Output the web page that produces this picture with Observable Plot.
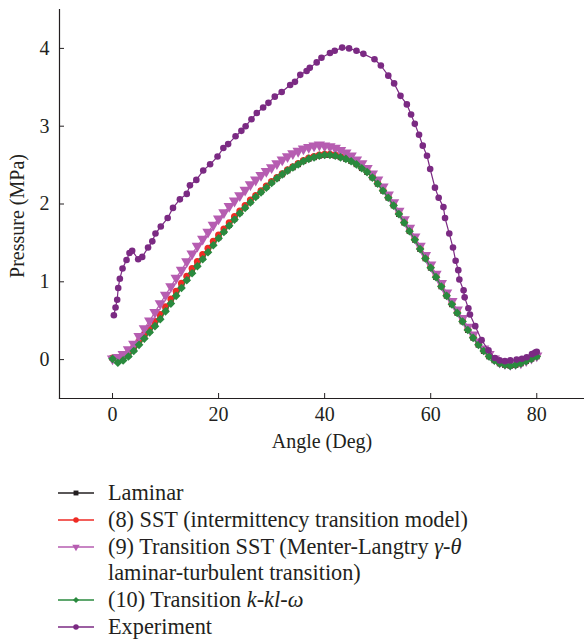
<!DOCTYPE html>
<html>
<head>
<meta charset="utf-8">
<script src="https://cdn.jsdelivr.net/npm/d3@7"></script>
<script src="https://cdn.jsdelivr.net/npm/@observablehq/plot@0.6"></script>
<style>
  body { margin: 0; background: #fff; font-family: "Liberation Serif", "Times New Roman", serif; color: #231f20; }
  #chart svg { display: block; }
  #legend { padding-top: 15px; font-size: 22.3px; }
  .row { height: 26.7px; display: flex; align-items: center; padding-left: 58px; white-space: nowrap; }
  .row svg { flex: none; margin-right: 14px; }
  .row.cont { padding-left: 108px; }
  i { font-style: italic; }
</style>
</head>
<body>
<div id="chart"></div>
<div id="legend"></div>
<script>
// ---- data ----
const xTicks = [0, 20, 40, 60, 80];
const yTicks = [0, 1, 2, 3, 4];

const angles = [0,1,2,3,4,5,6,7,8,9,10,11,12,13,14,15,16,17,18,19,20,21,22,23,24,25,26,27,28,29,30,31,32,33,34,35,36,37,38,39,40,41,42,43,44,45,46,47,48,49,50,51,52,53,54,55,56,57,58,59,60,61,62,63,64,65,66,67,68,69,70,71,72,73,74,75,76,77,78,79,80];

const laminar = [0.02,-0.01,0.01,0.06,0.13,0.21,0.29,0.37,0.45,0.54,0.64,0.74,0.84,0.94,1.04,1.13,1.22,1.31,1.40,1.49,1.57,1.65,1.73,1.81,1.89,1.96,2.03,2.10,2.16,2.22,2.28,2.33,2.38,2.43,2.47,2.51,2.55,2.58,2.60,2.62,2.63,2.63,2.62,2.60,2.58,2.55,2.51,2.46,2.41,2.34,2.26,2.17,2.08,1.98,1.87,1.76,1.65,1.54,1.42,1.30,1.18,1.06,0.94,0.82,0.71,0.60,0.49,0.38,0.28,0.19,0.11,0.04,-0.01,-0.05,-0.07,-0.08,-0.07,-0.05,-0.02,0.01,0.04];

const sst = [0.02,0.01,0.04,0.09,0.16,0.24,0.32,0.41,0.49,0.58,0.68,0.78,0.88,0.98,1.07,1.17,1.26,1.35,1.43,1.52,1.60,1.68,1.76,1.84,1.91,1.98,2.05,2.11,2.17,2.23,2.29,2.34,2.39,2.44,2.48,2.52,2.56,2.59,2.61,2.63,2.64,2.64,2.63,2.61,2.59,2.56,2.52,2.47,2.42,2.35,2.27,2.18,2.09,1.99,1.88,1.77,1.66,1.55,1.43,1.31,1.19,1.07,0.95,0.83,0.72,0.61,0.50,0.39,0.29,0.20,0.12,0.05,0.00,-0.04,-0.06,-0.07,-0.06,-0.04,-0.01,0.02,0.05];

const transitionSST = [0.01,0.03,0.07,0.13,0.20,0.30,0.40,0.50,0.61,0.72,0.83,0.94,1.05,1.15,1.26,1.36,1.46,1.55,1.64,1.73,1.81,1.89,1.97,2.04,2.11,2.18,2.25,2.31,2.37,2.42,2.47,2.52,2.57,2.61,2.65,2.68,2.71,2.73,2.75,2.76,2.75,2.74,2.72,2.69,2.66,2.62,2.57,2.52,2.46,2.39,2.31,2.22,2.12,2.02,1.91,1.80,1.69,1.58,1.46,1.34,1.22,1.10,0.98,0.86,0.75,0.64,0.53,0.42,0.32,0.23,0.14,0.07,0.01,-0.03,-0.05,-0.06,-0.05,-0.04,-0.01,0.02,0.05];

const kklw = [0.01,-0.04,-0.01,0.04,0.11,0.19,0.27,0.35,0.43,0.52,0.62,0.72,0.82,0.92,1.02,1.11,1.20,1.29,1.38,1.47,1.56,1.64,1.72,1.80,1.88,1.95,2.02,2.09,2.15,2.21,2.27,2.33,2.38,2.43,2.47,2.51,2.55,2.58,2.60,2.62,2.63,2.63,2.62,2.60,2.58,2.55,2.51,2.46,2.41,2.34,2.26,2.17,2.08,1.98,1.87,1.76,1.65,1.54,1.42,1.30,1.18,1.06,0.94,0.82,0.71,0.60,0.49,0.38,0.28,0.19,0.11,0.04,-0.01,-0.05,-0.07,-0.08,-0.07,-0.05,-0.02,0.01,0.04];

const expAngle = [0.25,0.57,0.88,1.07,1.38,1.89,2.64,3.2,3.7,4.84,5.6,6.7,7.5,8.1,9.1,10.4,11.4,12.7,14.0,14.6,15.8,17.1,18.4,19.8,20.9,21.8,23.2,24.3,25.1,26.2,27.2,28.4,29.4,30.6,31.9,33.5,34.4,35.4,36.6,37.2,38.5,39.4,41.0,41.9,43.3,44.6,46.0,47.3,49.4,50.6,52.0,53.1,54.3,55.5,56.3,57.0,57.8,58.5,59.3,59.9,60.8,61.5,62.4,62.7,63.5,64.2,64.7,65.2,65.4,66.2,66.4,67.1,67.4,68.4,69.6,70.9,72.1,73.0,74.0,75.0,76.2,77.2,78.1,79.1,79.7,80.0];
const expPressure = [0.57,0.67,0.77,0.92,1.04,1.17,1.28,1.37,1.40,1.29,1.32,1.44,1.52,1.62,1.71,1.82,1.95,2.06,2.13,2.24,2.31,2.43,2.51,2.61,2.72,2.77,2.87,2.94,3.00,3.09,3.17,3.24,3.30,3.38,3.44,3.53,3.57,3.66,3.71,3.75,3.82,3.88,3.94,3.97,4.01,4.00,3.97,3.93,3.86,3.78,3.65,3.55,3.39,3.28,3.15,3.03,2.89,2.75,2.62,2.45,2.21,2.08,1.96,1.82,1.62,1.44,1.27,1.15,1.03,0.89,0.80,0.66,0.58,0.43,0.25,0.12,0.02,-0.01,-0.02,-0.01,0.00,0.01,0.03,0.07,0.09,0.10];

const colors = ["#231f20", "#ee2b24", "#b65db1", "#2a8a3e", "#7b2a83"];

// ---- build tables ----
const sim = (vals) => angles.map((a, i) => ({a, p: vals[i]}));
const dLam = sim(laminar), dSst = sim(sst), dTr = sim(transitionSST), dK = sim(kklw);
const dExp = expAngle.map((a, i) => ({a, p: expPressure[i]}));

const font = "Liberation Serif, Times New Roman, serif";

const chart = Plot.plot({
  width: 584,
  height: 465,
  marginLeft: 59,
  marginRight: 0,
  marginTop: 9,
  marginBottom: 67,
  style: {fontFamily: font, fontSize: "20px", color: "#231f20", background: "#fff"},
  x: {domain: [-10, 89]},
  y: {domain: [-0.5, 4.5]},
  marks: [
    Plot.frame({anchor: "left", stroke: "#231f20", strokeWidth: 1.2}),
    Plot.frame({anchor: "bottom", stroke: "#231f20", strokeWidth: 1.2}),
    Plot.axisX({ticks: xTicks, tickFormat: d3.format("d"), tickSize: -5, tickPadding: 13, label: null, stroke: "#231f20", fontSize: 20}),
    Plot.axisY({ticks: yTicks, tickFormat: d3.format("d"), tickSize: -5, tickPadding: 15, label: null, stroke: "#231f20", fontSize: 20}),
    Plot.text(["Angle (Deg)"], {frameAnchor: "bottom", dy: 49, fontSize: 20, fill: "#231f20"}),
    Plot.text(["Pressure (MPa)"], {frameAnchor: "left", textAnchor: "middle", dx: -42, dy: 12, rotate: -90, fontSize: 20, fill: "#231f20"}),

    Plot.line(dLam, {x: "a", y: "p", stroke: colors[0], strokeWidth: 1.2}),
    Plot.dot(dLam, {x: "a", y: "p", symbol: "square", r: 3.2, fill: colors[0]}),
    Plot.line(dSst, {x: "a", y: "p", stroke: colors[1], strokeWidth: 1.2}),
    Plot.dot(dSst, {x: "a", y: "p", symbol: "circle", r: 3.5, fill: colors[1]}),
    Plot.line(dTr, {x: "a", y: "p", stroke: colors[2], strokeWidth: 1.2}),
    Plot.dot(dTr, {x: "a", y: "p", symbol: "triangle", rotate: 180, r: 4.2, fill: colors[2]}),
    Plot.line(dK, {x: "a", y: "p", stroke: colors[3], strokeWidth: 1.2}),
    Plot.dot(dK, {x: "a", y: "p", symbol: "diamond2", r: 3.9, fill: colors[3]}),
    Plot.line(dExp, {x: "a", y: "p", stroke: colors[4], strokeWidth: 1.2}),
    Plot.dot(dExp, {x: "a", y: "p", symbol: "circle", r: 3.3, fill: colors[4]})
  ]
});
document.getElementById("chart").appendChild(chart);

// ---- legend ----
const legendSymbols = ["square", "circle", "triangle", "diamond2", "circle"];
const legendHTML = [
  "Laminar",
  "(8) SST (intermittency transition model)",
  "(9) Transition SST (Menter-Langtry <i>γ</i>-<i>θ</i>",
  "(10) Transition <i>k</i>-<i>kl</i>-<i>ω</i>",
  "Experiment"
];
function swatch(i) {
  const sym = d3.symbol().type({
    square: d3.symbolSquare, circle: d3.symbolCircle, triangle: d3.symbolTriangle, diamond2: d3.symbolDiamond2
  }[legendSymbols[i]]).size(24)();
  const rot = legendSymbols[i] === "triangle" ? " rotate(180)" : "";
  return `<svg width="36" height="12"><line x1="0" x2="36" y1="6" y2="6" stroke="${colors[i]}" stroke-width="1.3"/>` +
    `<path d="${sym}" transform="translate(18,6)${rot}" fill="${colors[i]}"/></svg>`;
}
const leg = document.getElementById("legend");
let html = "";
legendHTML.forEach((t, i) => {
  html += `<div class="row">${swatch(i)}<span>${t}</span></div>`;
  if (i === 2) html += `<div class="row cont"><span>laminar-turbulent transition)</span></div>`;
});
leg.innerHTML = html;
</script>
</body>
</html>
